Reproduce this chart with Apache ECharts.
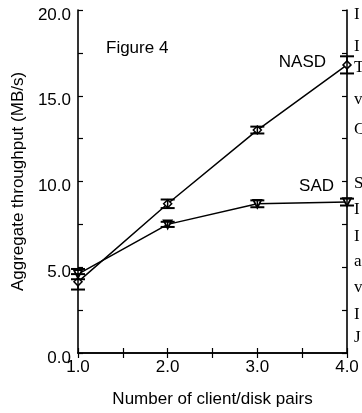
<!DOCTYPE html>
<html>
<head>
<meta charset="utf-8">
<script src="https://cdn.jsdelivr.net/npm/echarts@6/dist/echarts.min.js"></script>
<style>
  html, body { margin: 0; padding: 0; background: #fff; }
  #chart { width: 362px; height: 413px; }
</style>
</head>
<body>
<div id="chart"></div>
<script>
// client/disk pairs
const pairs = [1, 2, 3, 4];
// aggregate throughput, MB/s
const nasd = [4.15, 8.7, 13.0, 16.8];
const nasdErr = [0.45, 0.25, 0.2, 0.5];
const sad = [4.6, 7.5, 8.7, 8.8];
const sadErr = [0.3, 0.15, 0.2, 0.2];

// clipped first letters of the neighbouring text column
const sideLetters = ['I', 'I', 'T', 'v', 'C', 'S', 'I', 'I', 'a', 'v', 'I', 'J'];
const sideTops = [6, 38, 59, 91, 121, 175, 201, 228, 253, 279, 306, 329];

const FONT = 'Liberation Sans';
const FS = 17;
const chart = echarts.init(document.getElementById('chart'));

const errData = (vals, errs) => pairs.map((x, i) => [x, vals[i] - errs[i], vals[i] + errs[i]]);

const renderErr = (params, api) => {
  const x = api.value(0);
  const lo = api.coord([x, api.value(1)]);
  const hi = api.coord([x, api.value(2)]);
  const w = 7;
  const stem = { stroke: '#000', lineWidth: 1.5 };
  const cap = { stroke: '#000', lineWidth: 2 };
  return {
    type: 'group',
    children: [
      { type: 'line', shape: { x1: lo[0], y1: lo[1], x2: hi[0], y2: hi[1] }, style: stem },
      { type: 'line', shape: { x1: lo[0] - w, y1: lo[1], x2: lo[0] + w, y2: lo[1] }, style: cap },
      { type: 'line', shape: { x1: hi[0] - w, y1: hi[1], x2: hi[0] + w, y2: hi[1] }, style: cap }
    ]
  };
};

const axisLine = { lineStyle: { color: '#000', width: 1.6 } };
const tick = { inside: true, length: 5, lineStyle: { color: '#000', width: 1.2 } };

const xBase = { type: 'value', min: 1, max: 4, interval: 0.5, axisLine, axisTick: tick, splitLine: { show: false } };
const yBase = { type: 'value', min: 0, max: 20, interval: 2.5, axisLine, axisTick: tick, splitLine: { show: false } };

chart.setOption({
  animation: false,
  grid: { left: 78, right: 15, top: 10, bottom: 50 },
  textStyle: { fontFamily: FONT },
  xAxis: [
    {
      ...xBase,
      position: 'bottom',
      name: 'Number of client/disk pairs',
      nameLocation: 'middle',
      nameGap: 38,
      nameTextStyle: { color: '#000', fontSize: FS, fontFamily: FONT },
      axisLabel: {
        color: '#000', fontSize: FS, fontFamily: FONT, margin: 6,
        formatter: v => (v % 1 === 0 ? v.toFixed(1) : '')
      }
    },
    { ...xBase, position: 'top', axisLabel: { show: false } }
  ],
  yAxis: [
    {
      ...yBase,
      position: 'left',
      name: 'Aggregate throughput (MB/s)',
      nameLocation: 'middle',
      nameRotate: 90,
      nameGap: 51,
      nameTextStyle: { color: '#000', fontSize: FS, fontFamily: FONT },
      axisLabel: {
        color: '#000', margin: 7,
        formatter: v => (v % 5 === 0 ? '{t|' + v.toFixed(1) + '}' : ''),
        rich: { t: { fontSize: FS, fontFamily: FONT, color: '#000', padding: [10, 0, 0, 0] } }
      }
    },
    { ...yBase, position: 'right', axisLabel: { show: false } }
  ],
  series: [
    {
      name: 'NASD',
      type: 'line',
      data: pairs.map((x, i) => [x, nasd[i]]),
      symbol: 'diamond',
      symbolSize: 8,
      lineStyle: { color: '#000', width: 1.5 },
      itemStyle: { color: '#fff', borderColor: '#000', borderWidth: 1.5 },
      z: 3
    },
    {
      name: 'SAD',
      type: 'line',
      data: pairs.map((x, i) => [x, sad[i]]),
      symbol: 'triangle',
      symbolRotate: 180,
      symbolSize: 8,
      lineStyle: { color: '#000', width: 1.5 },
      itemStyle: { color: '#fff', borderColor: '#000', borderWidth: 1.8 },
      z: 3
    },
    { type: 'custom', renderItem: renderErr, data: errData(nasd, nasdErr), clip: false, z: 4 },
    { type: 'custom', renderItem: renderErr, data: errData(sad, sadErr), clip: false, z: 4 }
  ],
  graphic: [
    { type: 'text', left: 106, top: 40, style: { text: 'Figure 4', font: FS + 'px ' + FONT, fill: '#000' } },
    { type: 'text', right: 36, top: 54, style: { text: 'NASD', font: FS + 'px ' + FONT, fill: '#000' } },
    { type: 'text', right: 28, top: 178, style: { text: 'SAD', font: FS + 'px ' + FONT, fill: '#000' } },
    ...sideLetters.map((ch, i) => ({
      type: 'text', left: 354, top: sideTops[i],
      style: { text: ch, font: '17px "Liberation Serif"', fill: '#000' }
    }))
  ]
});
</script>
</body>
</html>
